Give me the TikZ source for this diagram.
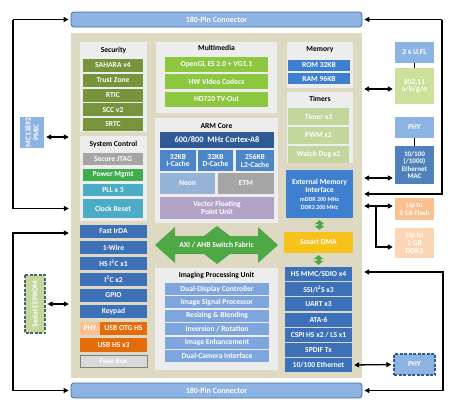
\documentclass[tikz,border=0pt]{standalone}
\usepackage{fontspec}
\setmainfont{Carlito}
\usetikzlibrary{arrows.meta}

\definecolor{connfill}{HTML}{8DB3E2}
\definecolor{connedge}{HTML}{3F6DA8}
\definecolor{beige}{HTML}{DDD9C3}
\definecolor{panelgrey}{HTML}{EDEDED}
\definecolor{secgreen}{HTML}{77933C}
\definecolor{mmgreen}{HTML}{8DC63F}
\definecolor{pwrgreen}{HTML}{3DAE4B}
\definecolor{pllteal}{HTML}{4BACC6}
\definecolor{jtaggrey}{HTML}{A5A5A5}
\definecolor{cortexblue}{HTML}{2F5A96}
\definecolor{cacheblue}{HTML}{4A86C8}
\definecolor{neonblue}{HTML}{95B3D7}
\definecolor{vfplilac}{HTML}{B3A2C7}
\definecolor{fabricgreen}{HTML}{4EA846}
\definecolor{ipublue}{HTML}{7EA6DC}
\definecolor{periblue}{HTML}{3C70B8}
\definecolor{memblue}{HTML}{3F7FCF}
\definecolor{timergreen}{HTML}{C3D69B}
\definecolor{dmayellow}{HTML}{F8C21C}
\definecolor{wifigreen}{HTML}{CDE09A}
\definecolor{macblue}{HTML}{4F81BD}
\definecolor{flashorange}{HTML}{FAC090}
\definecolor{ddrorange}{HTML}{FCD5B5}
\definecolor{usborange}{HTML}{E46C0A}
\definecolor{fusegrey}{HTML}{D9D9D9}
\definecolor{slate}{HTML}{4F6270}

\tikzset{
    sz/.style 2 args={minimum width=#1pt,minimum height=#2pt},
    blk/.style={rectangle,inner sep=0pt,align=center,text=white,font=\fontsize{7.6}{7.9}\selectfont\bfseries},
    title/.style={inner sep=0pt,text=black,font=\fontsize{7.6}{8}\selectfont\bfseries},
    panel/.style={rectangle,inner sep=0pt,fill=panelgrey},
    conn/.style={blk,fill=connfill,draw=connedge,line width=0.8pt,rounded corners=3pt,font=\fontsize{8}{9}\selectfont\bfseries},
    dashbox/.style={line width=1.2pt,dash pattern=on 3pt off 1.5pt},
    link/.style={line width=1.3pt,-{Triangle[length=5pt,width=5pt]},shorten >=2pt},
    dbl/.style={line width=1.3pt,{Triangle[length=5pt,width=5pt]}-{Triangle[length=5pt,width=5pt]},shorten >=2pt,shorten <=2pt},
    tie/.style={line width=1.3pt},
    dmalink/.style={draw=fabricgreen,line width=4pt,{Triangle[length=4pt,width=10pt]}-{Triangle[length=4pt,width=10pt]},shorten >=2pt,shorten <=2pt},
    }

\begin{document}
\begin{tikzpicture}[x=1pt,y=-1pt]
    \useasboundingbox (0,0) rectangle (450,413);

    \node[conn,sz={291}{15}] (topconn) at (216.5,19.5) {180-Pin Connector};
    \node[conn,sz={291}{15}] (botconn) at (216.5,390.5) {180-Pin Connector};
    \node[rectangle,fill=beige,sz={291}{345}] (beige) at (216.5,205.5) {};

    \node[panel,sz={67}{90}] (secpanel) at (113.5,87) {};
    \node[title] (sectitle) at (113.5,50) {Security};
    \node[blk,fill=secgreen,sz={60}{13}] (sahara) at (113,65.5) {SAHARA v4};
    \node[blk,fill=secgreen,sz={60}{13}] (trust) at (113,80.25) {Trust Zone};
    \node[blk,fill=secgreen,sz={60}{13}] (rtic) at (113,95) {RTIC};
    \node[blk,fill=secgreen,sz={60}{13}] (scc) at (113,109.75) {SCC v2};
    \node[blk,fill=secgreen,sz={60}{13}] (srtc) at (113,124.5) {SRTC};

    \node[panel,sz={67}{85}] (syspanel) at (113.5,178.5) {};
    \node[title] (systitle) at (113.5,144) {System Control};
    \node[blk,fill=jtaggrey,sz={60}{12}] (jtag) at (113,159) {Secure JTAG};
    \node[blk,fill=pwrgreen,sz={60}{12}] (pwr) at (113,175) {Power Mgmt};
    \node[blk,fill=pllteal,sz={60}{12}] (pll) at (113,190) {PLL x 3};
    \node[blk,fill=pllteal,sz={60}{19}] (clkrst) at (113,208.5) {Clock Reset};

    \node[blk,fill=periblue,sz={67}{13}] (irda) at (113.5,231.5) {Fast IrDA};
    \node[blk,fill=periblue,sz={67}{13}] (onewire) at (113.5,247.5) {1-Wire};
    \node[blk,fill=periblue,sz={67}{13}] (hsitwoc) at (113.5,263.5) {HS I\textsuperscript{2}C x1};
    \node[blk,fill=periblue,sz={67}{13}] (itwoc) at (113.5,279.5) {I\textsuperscript{2}C x2};
    \node[blk,fill=periblue,sz={67}{13}] (gpio) at (113.5,295.5) {GPIO};
    \node[blk,fill=periblue,sz={67}{13}] (keypad) at (113.5,311.5) {Keypad};
    \node[blk,fill=flashorange,sz={20}{13}] (usbphy) at (90,328.5) {PHY};
    \node[blk,fill=usborange,sz={47}{13}] (usbotg) at (123.5,328.5) {USB OTG HS};
    \node[blk,fill=usborange,sz={67}{14}] (usbhs) at (113.5,345) {USB HS x3};
    \node[blk,fill=fusegrey,draw=gray,line width=0.8pt,sz={67}{12}] (fuse) at (113.5,361.5) {Fuse Box};

    \node[panel,sz={121}{71}] (mmpanel) at (216.5,77.5) {};
    \node[title] (mmtitle) at (216.5,48) {Multimedia};
    \node[blk,fill=mmgreen,sz={103}{15}] (opengl) at (216.5,64.5) {OpenGL ES 2.0 + VG1.1};
    \node[blk,fill=mmgreen,sz={103}{15}] (video) at (216.5,81.5) {HW Video Codecs};
    \node[blk,fill=mmgreen,sz={103}{15}] (tvout) at (216.5,99.5) {HD720 TV-Out};

    \node[panel,sz={123}{105}] (armpanel) at (216.5,170.5) {};
    \node[title] (armtitle) at (216.5,126) {ARM Core};
    \node[blk,fill=cortexblue,sz={114}{16},font=\fontsize{8.4}{9}\selectfont\bfseries] (cortex) at (217,140) {600/800~ MHz Cortex-A8};
    \node[blk,fill=cacheblue,sz={36}{21}] (icache) at (178,160.5) {32KB\\I-Cache};
    \node[blk,fill=cacheblue,sz={35}{21}] (dcache) at (215.5,160.5) {32KB\\D-Cache};
    \node[blk,fill=cacheblue,sz={38}{21}] (ltwo) at (255,160.5) {256KB\\L2-Cache};
    \node[blk,fill=neonblue,sz={55}{21}] (neon) at (187.5,183.5) {Neon};
    \node[blk,fill=jtaggrey,sz={56}{21}] (etm) at (246,183.5) {ETM};
    \node[blk,fill=vfplilac,sz={114}{22}] (vfp) at (217,208) {Vector Floating\\Point Unit};

    \fill[fabricgreen] (155,245) -- (175,227) -- (175,236) -- (204,236) -- (217,226) -- (230,236)
        -- (258,236) -- (258,227) -- (278,245) -- (258,263) -- (258,254) -- (230,254)
        -- (217,264) -- (204,254) -- (175,254) -- (175,263) -- cycle;
    \node[blk] (axi) at (216.5,245) {AXI / AHB Switch Fabric};

    \node[panel,sz={123}{102}] (ipupanel) at (216.5,319) {};
    \node[title] (iputitle) at (216.5,275) {Imaging Processing Unit};
    \node[blk,fill=ipublue,sz={104}{12}] (dualdisp) at (217,289) {Dual-Display Controller};
    \node[blk,fill=ipublue,sz={104}{12}] (isp) at (217,302.4) {Image Signal Processor};
    \node[blk,fill=ipublue,sz={104}{12}] (resize) at (217,315.8) {Resizing \& Blending};
    \node[blk,fill=ipublue,sz={104}{12}] (invert) at (217,329.2) {Inversion / Rotation};
    \node[blk,fill=ipublue,sz={104}{12}] (enhance) at (217,342.6) {Image Enhancement};
    \node[blk,fill=ipublue,sz={104}{12}] (dualcam) at (217,356) {Dual-Camera Interface};

    \node[panel,sz={66}{46}] (mempanel) at (320,65) {};
    \node[title] (memtitle) at (320,50) {Memory};
    \node[blk,fill=memblue,sz={62}{11}] (rom) at (319,65.5) {ROM 32KB};
    \node[blk,fill=memblue,sz={62}{11}] (ram) at (319,78.5) {RAM 96KB};

    \node[panel,sz={66}{71}] (timpanel) at (320,127.5) {};
    \node[title] (timtitle) at (320,99) {Timers};
    \node[blk,fill=timergreen,sz={61}{16.5}] (timer) at (318.5,116.5) {Timer x3};
    \node[blk,fill=timergreen,sz={61}{16.5}] (pwm) at (318.5,135.5) {PWM x2};
    \node[blk,fill=timergreen,sz={61}{16.5}] (wdog) at (318.5,154.5) {Watch Dog x2};

    \node[blk,fill=memblue,sz={67}{48}] (emi) at (319.5,194) {External Memory\\Interface\\[1pt]{\fontsize{6}{6.6}\selectfont mDDR 200 MHz}\\{\fontsize{6}{6.6}\selectfont DDR2 200 MHz}};
    \node[blk,fill=dmayellow,sz={69}{21}] (dma) at (318.5,242.5) {Smart DMA};

    \node[blk,fill=periblue,sz={67}{14}] (hsmmc) at (318.5,274) {HS MMC/SDIO x4};
    \node[blk,fill=periblue,sz={67}{14}] (ssi) at (318.5,289.2) {SSI/I\textsuperscript{2}S x3};
    \node[blk,fill=periblue,sz={67}{14}] (uart) at (318.5,304.3) {UART x3};
    \node[blk,fill=periblue,sz={67}{14}] (ata) at (318.5,319.5) {ATA-6};
    \node[blk,fill=periblue,sz={67}{14}] (cspi) at (318.5,334.7) {CSPI HS x2 / LS x1};
    \node[blk,fill=periblue,sz={67}{14}] (spdif) at (318.5,349.8) {SPDIF Tx};
    \node[blk,fill=periblue,sz={67}{14}] (eth) at (318.5,365) {10/100 Ethernet};

    \node[blk,fill=connfill,sz={39}{21}] (ufl) at (414.5,52.5) {2 x U.FL};
    \node[blk,fill=wifigreen,sz={39}{36}] (wifi) at (414.5,86) {802.11\\a/b/g/n};
    \node[blk,fill=connfill,sz={39}{21}] (phyr) at (414.5,127.5) {PHY};
    \node[blk,fill=macblue,sz={39}{38},font=\fontsize{7}{7.4}\selectfont\bfseries] (emac) at (414.5,165) {10/100\\(/1000)\\Ethernet\\MAC};
    \node[blk,fill=flashorange,sz={39}{22},font=\fontsize{7}{7.8}\selectfont\bfseries] (flash) at (414.5,209) {Up to\\8 GB Flash};
    \node[blk,fill=ddrorange,sz={39}{30}] (ddr) at (414.5,243) {Up to\\1 GB\\DDR2};
    \node[blk,fill=connfill,draw=cortexblue,dashbox,sz={41}{21}] (phyd) at (414.5,364.5) {PHY};

    \node[blk,fill=connfill,rotate=90,sz={31}{24}] (pmic) at (32,132.5) {MC13892\\PMIC};
    \node[blk,fill=timergreen,draw=slate,dashbox,rotate=90,sz={58}{20}] (eeprom) at (35,304) {Serial EEPROM};

    \coordinate (ltop) at (13,19.5);
    \coordinate (lbot) at (13,390.5);
    \coordinate (rtop) at (442,19.5);
    \coordinate (rbot) at (443,390.5);
    \coordinate (split) at (376,206);

    \draw[dmalink] (emi.south) -- (emi.south |- dma.north);
    \draw[dmalink] (hsmmc.north |- dma.south) -- (hsmmc.north);

    \draw[tie] (ufl) -- (wifi);
    \draw[tie] (phyr) -- (emac);

    \draw[link] (ltop) -- (topconn.west);
    \draw[link] (ltop) |- (beige.west |- clkrst);
    \draw[link] (lbot) -- (botconn.west);
    \draw[link] (lbot) |- ([yshift=-1.5pt]beige.west |- irda);
    \draw[link] (rtop) -- (topconn.east);
    \draw[link] (rtop) |- (beige.east |- emi);
    \draw[link] (rbot) -- (botconn.east);
    \draw[link] (rbot) |- ([yshift=2pt]beige.east |- hsmmc);

    \draw[dbl] ([yshift=-4.5pt]pmic.south) -- ([yshift=-4.5pt]beige.west |- pmic.south);
    \draw[dbl] (eeprom.south) -- (beige.west |- eeprom.south);
    \draw[dbl] ([yshift=-3pt]beige.east |- wifi.west) -- ([yshift=-3pt]wifi.west);
    \draw[dbl] ([yshift=-13pt]beige.east |- emac.west) -- ([yshift=-13pt]emac.west);
    \draw[dbl] (beige.east |- split) -- (flash.west |- split);
    \draw[link] (split) |- ([yshift=-4pt]ddr.west);
    \draw[dbl] (eth.east) -- (phyd.west);
\end{tikzpicture}
\end{document}
